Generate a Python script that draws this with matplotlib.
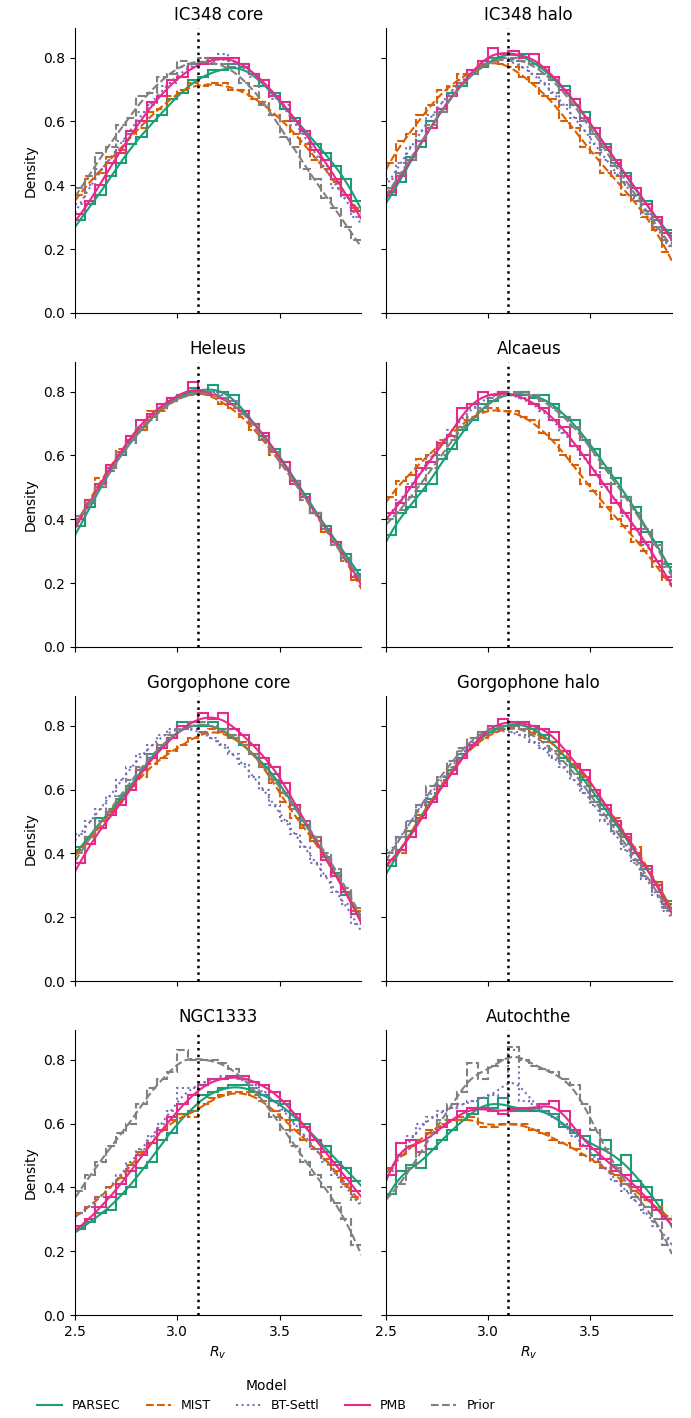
import numpy as np
import matplotlib.pyplot as plt
from matplotlib.lines import Line2D

# Rv histogram densities, 28 bins of width 0.05 from 2.5 to 3.9
models = ["PARSEC", "MIST", "BT-Settl", "PMB", "Prior"]
colors = ["#1b9e77", "#d95f02", "#7570b3", "#e7298a", "gray"]
styles = ["-", "--", ":", "-", "--"]

ic348_core_parsec = [.29, .34, .37, .43, .47, .53, .55, .60, .62, .67, .69, .73, .74, .76, .76, .78, .77, .75, .71, .69, .64, .61, .57, .53, .50, .46, .42, .35]
ic348_core_mist = [.37, .42, .44, .49, .51, .56, .58, .63, .64, .68, .70, .72, .71, .72, .72, .70, .70, .67, .66, .62, .60, .56, .53, .48, .45, .41, .37, .33]
ic348_core_bt = [.34, .40, .45, .48, .54, .57, .63, .65, .71, .72, .77, .77, .80, .79, .81, .78, .78, .74, .73, .67, .65, .59, .56, .49, .46, .39, .36, .30]
ic348_core_pmb = [.31, .35, .40, .47, .50, .57, .60, .66, .68, .73, .74, .78, .78, .80, .80, .80, .78, .75, .73, .68, .66, .60, .57, .51, .48, .42, .37, .32]
ic348_core_prior = [.39, .43, .50, .52, .59, .61, .68, .69, .74, .75, .79, .78, .80, .78, .78, .77, .72, .71, .65, .62, .55, .52, .45, .42, .36, .33, .27, .23]

ic348_halo_parsec = [.37, .41, .49, .52, .60, .63, .69, .71, .76, .77, .80, .81, .82, .81, .78, .77, .73, .71, .65, .63, .56, .53, .47, .44, .37, .35, .29, .26]
ic348_halo_mist = [.47, .54, .56, .62, .65, .70, .71, .75, .75, .78, .80, .78, .77, .74, .72, .68, .67, .60, .58, .52, .50, .44, .43, .37, .35, .30, .26, .19]
ic348_halo_bt = [.42, .47, .52, .57, .62, .66, .70, .73, .76, .78, .80, .80, .79, .77, .75, .72, .69, .65, .61, .57, .53, .48, .44, .40, .36, .31, .27, .22]
ic348_halo_pmb = [.38, .43, .48, .54, .58, .64, .68, .72, .76, .79, .83, .81, .82, .80, .81, .77, .74, .70, .67, .61, .58, .52, .48, .43, .39, .34, .30, .25]
ic348_halo_prior = [.39, .44, .48, .54, .59, .63, .68, .72, .75, .78, .79, .80, .80, .79, .78, .75, .73, .69, .65, .60, .56, .51, .46, .41, .37, .32, .27, .23]

heleus_parsec = [.38, .44, .50, .56, .60, .65, .68, .72, .75, .78, .79, .81, .80, .82, .80, .79, .74, .70, .66, .62, .58, .52, .48, .42, .38, .33, .29, .24]
heleus_mist = [.41, .46, .53, .56, .62, .66, .68, .74, .74, .77, .79, .80, .80, .79, .76, .75, .72, .68, .65, .60, .56, .52, .46, .42, .36, .33, .27, .21]
heleus_bt = [.40, .45, .51, .56, .61, .65, .69, .72, .75, .77, .79, .80, .80, .80, .79, .77, .73, .70, .66, .61, .57, .52, .47, .42, .37, .32, .27, .22]
heleus_pmb = [.40, .46, .51, .57, .61, .66, .71, .73, .76, .78, .79, .83, .80, .79, .78, .76, .74, .70, .67, .61, .58, .51, .47, .42, .37, .33, .28, .22]
heleus_prior = [.41, .45, .50, .55, .61, .64, .69, .71, .75, .77, .79, .79, .80, .80, .78, .77, .73, .70, .65, .61, .56, .52, .46, .42, .37, .32, .28, .23]

alcaeus_parsec = [.35, .42, .44, .49, .51, .59, .62, .68, .71, .76, .77, .80, .79, .80, .78, .79, .76, .72, .71, .65, .62, .56, .53, .47, .44, .36, .33, .26]
alcaeus_mist = [.47, .52, .54, .59, .60, .65, .66, .71, .72, .74, .75, .74, .74, .72, .71, .67, .65, .60, .57, .51, .49, .44, .40, .38, .33, .30, .25, .21]
alcaeus_bt = [.42, .46, .51, .55, .60, .64, .68, .72, .75, .78, .79, .80, .79, .78, .76, .74, .71, .67, .63, .59, .55, .50, .46, .41, .37, .32, .27, .22]
alcaeus_pmb = [.42, .45, .50, .56, .58, .64, .66, .75, .76, .80, .79, .80, .79, .79, .76, .75, .71, .69, .63, .60, .54, .51, .45, .42, .37, .33, .27, .22]
alcaeus_prior = [.40, .43, .47, .51, .56, .60, .65, .69, .72, .75, .78, .79, .80, .80, .79, .77, .75, .72, .69, .65, .60, .56, .51, .47, .42, .37, .32, .25]

gorgo_core_parsec = [.42, .45, .51, .53, .57, .61, .66, .71, .74, .76, .81, .80, .80, .81, .79, .76, .74, .71, .68, .65, .59, .55, .49, .44, .39, .34, .27, .22]
gorgo_core_mist = [.41, .45, .48, .53, .56, .61, .64, .68, .70, .72, .74, .76, .78, .79, .78, .76, .75, .71, .67, .62, .56, .51, .48, .44, .38, .33, .28, .22]
gorgo_core_bt = [.46, .50, .54, .58, .63, .67, .71, .74, .77, .79, .80, .79, .78, .76, .74, .71, .68, .64, .60, .55, .50, .46, .42, .37, .33, .28, .24, .18]
gorgo_core_pmb = [.37, .43, .48, .52, .55, .60, .66, .70, .73, .76, .80, .81, .84, .82, .84, .79, .77, .74, .70, .67, .62, .55, .50, .45, .38, .33, .28, .21]
gorgo_core_prior = [.40, .45, .50, .54, .58, .63, .67, .71, .74, .77, .79, .81, .81, .80, .79, .77, .74, .71, .67, .63, .59, .54, .50, .45, .40, .35, .29, .23]

gorgo_halo_parsec = [.36, .41, .47, .52, .57, .61, .66, .71, .74, .77, .79, .80, .81, .81, .79, .77, .75, .70, .67, .63, .58, .54, .49, .45, .40, .35, .31, .25]
gorgo_halo_mist = [.38, .40, .47, .52, .56, .62, .66, .70, .74, .76, .78, .79, .80, .79, .78, .76, .75, .71, .68, .64, .60, .55, .51, .45, .42, .36, .31, .25]
gorgo_halo_bt = [.41, .45, .50, .55, .59, .63, .67, .72, .75, .77, .79, .79, .78, .77, .75, .73, .70, .67, .63, .59, .55, .50, .46, .41, .37, .32, .27, .22]
gorgo_halo_pmb = [.38, .41, .45, .51, .56, .61, .65, .70, .74, .78, .80, .82, .81, .81, .80, .79, .78, .72, .68, .66, .60, .55, .50, .46, .40, .36, .30, .24]
gorgo_halo_prior = [.40, .45, .50, .55, .61, .64, .69, .73, .76, .78, .80, .80, .80, .79, .77, .75, .72, .69, .65, .61, .56, .52, .47, .43, .38, .33, .28, .23]

ngc1333_parsec = [.27, .29, .32, .33, .38, .40, .46, .48, .55, .57, .63, .64, .69, .70, .71, .72, .72, .70, .69, .67, .66, .61, .60, .55, .53, .48, .46, .42]
ngc1333_mist = [.32, .34, .37, .40, .43, .47, .51, .54, .58, .61, .63, .62, .66, .68, .69, .70, .70, .69, .67, .64, .61, .58, .55, .52, .49, .45, .41, .37]
ngc1333_bt = [.32, .34, .37, .40, .44, .48, .52, .56, .60, .64, .71, .71, .73, .74, .75, .75, .74, .72, .70, .67, .64, .60, .56, .52, .48, .44, .40, .36]
ngc1333_pmb = [.28, .30, .34, .37, .41, .45, .50, .54, .58, .62, .66, .69, .72, .74, .74, .75, .75, .73, .72, .70, .67, .63, .59, .55, .51, .47, .43, .39]
ngc1333_prior = [.39, .44, .48, .53, .57, .60, .66, .71, .74, .76, .83, .80, .80, .80, .79, .77, .74, .71, .67, .62, .58, .53, .48, .44, .40, .35, .30, .22]

autochthe_parsec = [.38, .45, .47, .46, .52, .55, .58, .61, .63, .68, .65, .68, .64, .64, .65, .64, .63, .59, .57, .56, .50, .55, .47, .50, .42, .40, .36, .30]
autochthe_mist = [.46, .50, .53, .55, .58, .60, .61, .62, .62, .59, .59, .60, .60, .60, .58, .57, .55, .54, .52, .50, .48, .46, .44, .41, .39, .36, .34, .31]
autochthe_bt = [.45, .50, .56, .60, .62, .64, .65, .66, .67, .68, .69, .68, .83, .67, .66, .64, .62, .60, .56, .53, .49, .46, .42, .39, .36, .32, .28, .24]
autochthe_pmb = [.44, .54, .55, .51, .57, .59, .61, .64, .65, .65, .64, .63, .65, .65, .64, .66, .67, .64, .58, .53, .52, .49, .45, .44, .40, .37, .33, .30]
autochthe_prior = [.38, .41, .46, .51, .57, .61, .66, .70, .79, .74, .78, .80, .84, .80, .78, .77, .76, .74, .72, .66, .58, .52, .46, .41, .37, .34, .30, .22]

panels = [
    ("IC348 core", [ic348_core_parsec, ic348_core_mist, ic348_core_bt, ic348_core_pmb, ic348_core_prior]),
    ("IC348 halo", [ic348_halo_parsec, ic348_halo_mist, ic348_halo_bt, ic348_halo_pmb, ic348_halo_prior]),
    ("Heleus", [heleus_parsec, heleus_mist, heleus_bt, heleus_pmb, heleus_prior]),
    ("Alcaeus", [alcaeus_parsec, alcaeus_mist, alcaeus_bt, alcaeus_pmb, alcaeus_prior]),
    ("Gorgophone core", [gorgo_core_parsec, gorgo_core_mist, gorgo_core_bt, gorgo_core_pmb, gorgo_core_prior]),
    ("Gorgophone halo", [gorgo_halo_parsec, gorgo_halo_mist, gorgo_halo_bt, gorgo_halo_pmb, gorgo_halo_prior]),
    ("NGC1333", [ngc1333_parsec, ngc1333_mist, ngc1333_bt, ngc1333_pmb, ngc1333_prior]),
    ("Autochthe", [autochthe_parsec, autochthe_mist, autochthe_bt, autochthe_pmb, autochthe_prior]),
]

edges = np.linspace(2.5, 3.9, 29)
centers = 0.5 * (edges[:-1] + edges[1:])
grid = np.linspace(2.5, 3.9, 300)


def smooth(vals, bw=0.06):
    # local linear kernel smoothing of the histogram (stands in for the KDE line)
    y = np.asarray(vals)
    d = centers[None, :] - grid[:, None]
    w = np.exp(-0.5 * (d / bw) ** 2)
    s0, s1, s2 = w.sum(1), (w * d).sum(1), (w * d * d).sum(1)
    t0, t1 = (w * y).sum(1), (w * d * y).sum(1)
    return (s2 * t0 - s1 * t1) / (s0 * s2 - s1 ** 2)


fig, axes = plt.subplots(4, 2, figsize=(6.91, 14.18), dpi=100, sharex=True, sharey=True)
plt.subplots_adjust(left=0.1085, right=0.9725, top=0.9803, bottom=0.0726, wspace=0.084, hspace=0.172)

for ax, (title, series) in zip(axes.flat, panels):
    for vals, c, ls in zip(series, colors, styles):
        ax.stairs(vals, edges, baseline=None, fill=False, color=c, linestyle=ls, lw=1.5)
        ax.plot(grid, smooth(vals), color=c, linestyle=ls, lw=1.5)
    ax.axvline(3.1, color="black", linestyle=":", lw=1.8)
    ax.set_title(title)
    ax.spines[["top", "right"]].set_visible(False)

axes[0, 0].set_xlim(2.5, 3.9)
axes[0, 0].set_ylim(0, 0.893)
axes[0, 0].set_xticks([2.5, 3.0, 3.5])
axes[0, 0].set_yticks([0.0, 0.2, 0.4, 0.6, 0.8])
for ax in axes[:, 0]:
    ax.set_ylabel("Density")
for ax in axes[-1, :]:
    ax.set_xlabel("$R_v$")

handles = [Line2D([], [], color=c, linestyle=ls, lw=1.5) for c, ls in zip(colors, styles)]
fig.legend(handles, models, loc="lower center", bbox_to_anchor=(0.385, -0.004),
           ncol=5, frameon=False, title="Model", fontsize=9, title_fontsize=10)

plt.savefig("out.png", dpi=100)
